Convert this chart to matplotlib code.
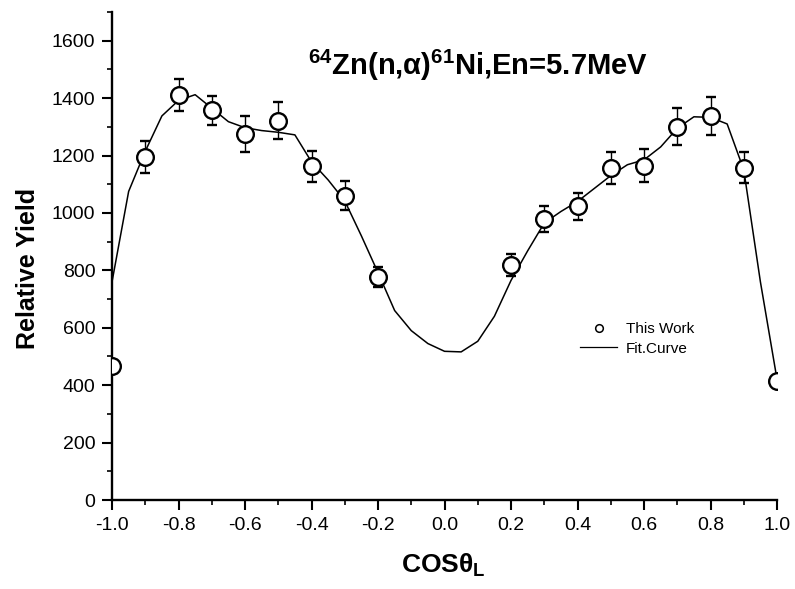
import numpy as np
import matplotlib
matplotlib.use("Agg")
import matplotlib.pyplot as plt
from matplotlib.ticker import MultipleLocator

plt.rcParams['font.family'] = 'Liberation Sans'
plt.rcParams['mathtext.fontset'] = 'custom'
plt.rcParams['mathtext.rm'] = 'Liberation Sans:bold'
plt.rcParams['mathtext.default'] = 'rm'

# measured points (this work)
cos_theta = [-1.0, -0.9, -0.8, -0.7, -0.6, -0.5, -0.4, -0.3, -0.2,
             0.2, 0.3, 0.4, 0.5, 0.6, 0.7, 0.8, 0.9, 1.0]
yield_rel = [468, 1195, 1410, 1358, 1275, 1322, 1162, 1060, 778,
             818, 978, 1024, 1158, 1165, 1300, 1337, 1158, 415]
yield_err = [np.nan, 57, 55, 50, 63, 66, 55, 50, 35,
             38, 45, 47, 56, 58, 65, 66, 54, np.nan]

# fit curve
fit_x = [-1.00, -0.95, -0.90, -0.85, -0.80, -0.75, -0.70, -0.65, -0.60, -0.55,
         -0.50, -0.45, -0.40, -0.35, -0.30, -0.25, -0.20, -0.15, -0.10, -0.05,
         0.00, 0.05, 0.10, 0.15, 0.20, 0.25, 0.30, 0.35, 0.40, 0.45,
         0.50, 0.55, 0.60, 0.65, 0.70, 0.75, 0.80, 0.85, 0.90, 0.95, 1.00]
fit_y = [760, 1075, 1215, 1338, 1392, 1412, 1365, 1318, 1297, 1287,
         1281, 1272, 1178, 1115, 1042, 920, 792, 660, 590, 545,
         518, 516, 553, 640, 765, 868, 965, 1005, 1040, 1085,
         1130, 1168, 1185, 1230, 1295, 1335, 1333, 1310, 1150, 760, 420]

fig = plt.figure(figsize=(7.95, 5.89), dpi=100)
ax = fig.add_axes([0.1409, 0.1511, 0.8365, 0.8285])

ax.plot(fit_x, fit_y, color='black', lw=1.1)
# end points sit on the frame and get clipped to half circles
ax.errorbar(cos_theta, yield_rel, yerr=yield_err, fmt='o', ms=12, mfc='white',
            mec='black', mew=1.7, ecolor='black', elinewidth=1.0, capsize=3.5,
            capthick=1.0, zorder=3)

# legend proxies
h_pts, = ax.plot([], [], 'o', ms=5.5, mfc='white', mec='black', mew=1.1, label='This Work')
h_fit, = ax.plot([], [], color='black', lw=0.9, label='Fit.Curve')

ax.set_xlim(-1.0, 1.0)
ax.set_ylim(0, 1700)
ax.xaxis.set_minor_locator(MultipleLocator(0.1))
ax.yaxis.set_minor_locator(MultipleLocator(100))
ax.set_xticks(np.arange(-1.0, 1.01, 0.2))
ax.set_xticklabels(['-1.0', '-0.8', '-0.6', '-0.4', '-0.2', '0.0', '0.2', '0.4', '0.6', '0.8', '1.0'])
ax.set_yticks(np.arange(0, 1601, 200))

for side in ['top', 'right']:
    ax.spines[side].set_visible(False)
for side in ['left', 'bottom']:
    ax.spines[side].set_linewidth(1.7)
ax.tick_params(which='major', direction='out', length=7, width=1.5, labelsize=14, pad=5)
ax.tick_params(which='minor', direction='out', length=3.5, width=1.2)

ax.set_ylabel('Relative Yield', fontsize=18, fontweight='bold')
ax.yaxis.set_label_coords(-0.108, 0.475)
ax.set_xlabel(r'COS$\theta_{L}$', fontsize=19, fontweight='bold')
ax.xaxis.set_label_coords(0.498, -0.106)

ax.text(0.55, 0.891, r'$^{64}$Zn(n,α)$^{61}$Ni,En=5.7MeV', transform=ax.transAxes,
        ha='center', va='center', fontsize=21, fontweight='bold')

ax.legend(handles=[h_pts, h_fit], loc='upper left', bbox_to_anchor=(0.704, 0.364),
          frameon=False, fontsize=11, handlelength=2.4, handletextpad=0.6,
          labelspacing=0.35, borderpad=0, borderaxespad=0)

fig.savefig('out.png', dpi=100)
